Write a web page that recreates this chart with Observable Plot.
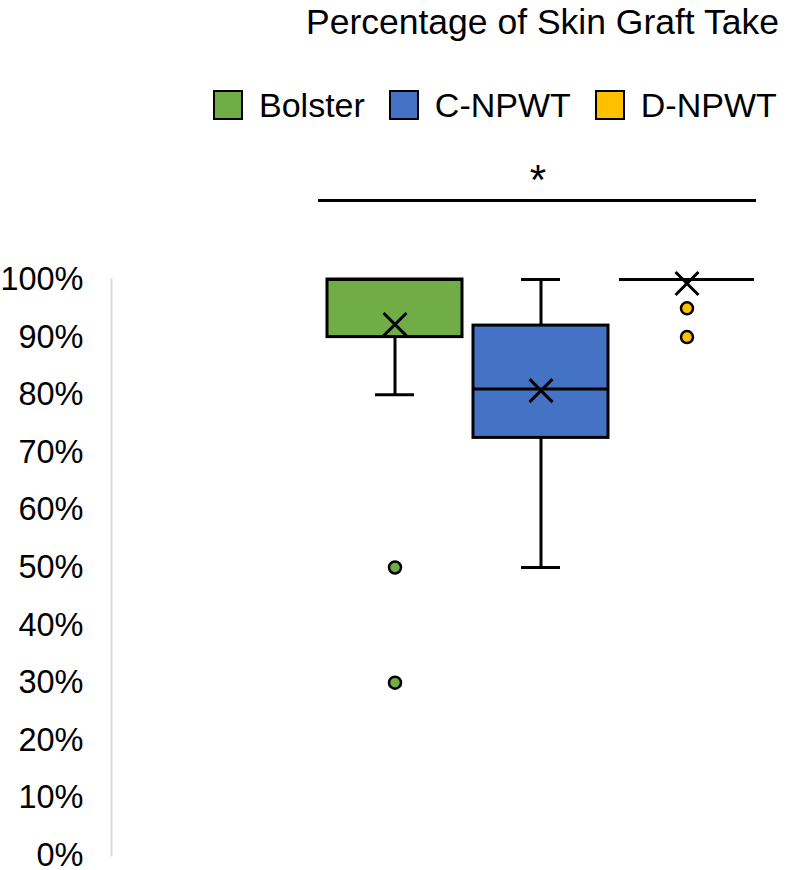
<!DOCTYPE html>
<html>
<head>
<meta charset="utf-8">
<script src="https://cdn.jsdelivr.net/npm/d3@7"></script>
<script src="https://cdn.jsdelivr.net/npm/@observablehq/plot@0.6"></script>
<style>
  html, body { margin: 0; padding: 0; background: #fff; }
  #wrap { position: relative; width: 800px; height: 870px; font-family: "Liberation Sans", Arial, sans-serif; color: #000; }
  #title { position: absolute; left: 306px; top: 2px; font-size: 35.5px; line-height: 40px; white-space: nowrap; }
  #legend { position: absolute; left: 213px; top: 90px; height: 30px; display: flex; align-items: center; font-size: 34px; line-height: 30px; white-space: nowrap; }
  .sw { width: 26px; height: 26px; border: 2px solid #000; margin-right: 16px; }
  .item { display: flex; align-items: center; margin-right: 24px; }
  #chart { position: absolute; left: 0; top: 140px; }
</style>
</head>
<body>
<div id="wrap">
  <div id="title"></div>
  <div id="legend"></div>
  <div id="chart"></div>
</div>
<script>
const titleText = "Percentage of Skin Graft Take";
const series = ["Bolster", "C-NPWT", "D-NPWT"];
const colors = ["#70ad47", "#4472c4", "#ffc000"];
const q1 = [0.90, 0.725, 1.00];
const median = [1.00, 0.81, 1.00];
const q3 = [1.00, 0.92, 1.00];
const whiskerLow = [0.80, 0.50, 1.00];
const whiskerHigh = [1.00, 1.00, 1.00];
const mean = [0.922, 0.807, 0.993];
const outlierSeries = ["Bolster", "Bolster", "D-NPWT", "D-NPWT"];
const outlierValues = [0.50, 0.30, 0.95, 0.90];
const yTicks = [0, 0.1, 0.2, 0.3, 0.4, 0.5, 0.6, 0.7, 0.8, 0.9, 1.0];
const sigFrom = "Bolster", sigTo = "D-NPWT", sigLevel = 1.137, sigLabel = "*";

document.getElementById("title").textContent = titleText;
const leg = document.getElementById("legend");
series.forEach((s, i) => {
  const it = document.createElement("div"); it.className = "item";
  const sw = document.createElement("div"); sw.className = "sw"; sw.style.background = colors[i];
  const tx = document.createElement("span"); tx.textContent = s;
  it.appendChild(sw); it.appendChild(tx); leg.appendChild(it);
});

const boxes = series.map((s, i) => ({
  series: s, color: colors[i], q1: q1[i], median: median[i], q3: q3[i],
  lo: whiskerLow[i], hi: whiskerHigh[i], mean: mean[i]
}));
const outliers = outlierSeries.map((s, i) => ({series: s, value: outlierValues[i], color: colors[series.indexOf(s)]}));
const sig = [{from: sigFrom, to: sigTo, level: sigLevel, label: sigLabel, mid: series[1]}];

const chart = Plot.plot({
  width: 800,
  height: 730,
  marginLeft: 111,
  marginRight: 45,
  marginTop: 139,
  marginBottom: 15,
  style: {fontFamily: "'Liberation Sans', Arial, sans-serif", fontSize: "33px", color: "#000", background: "#fff", overflow: "visible"},
  x: {domain: series, range: [326, 755], paddingInner: 0.075, paddingOuter: 0, axis: null},
  y: {domain: [0, 1], axis: null},
  marks: [
    Plot.frame({anchor: "left", stroke: "#d9d9d9", strokeWidth: 2, strokeOpacity: 1}),
    Plot.axisY({ticks: yTicks, tickFormat: d3.format(".0%"), tickSize: 0, tickPadding: 28, fontSize: 32.5, fill: "#000"}),
    Plot.ruleX(boxes, {x: "series", y1: "lo", y2: "q1", stroke: "#000", strokeWidth: 3}),
    Plot.ruleX(boxes, {x: "series", y1: "q3", y2: "hi", stroke: "#000", strokeWidth: 3}),
    Plot.tickY(boxes, {x: "series", y: "lo", stroke: "#000", strokeWidth: 3, insetLeft: 48, insetRight: 48}),
    Plot.tickY(boxes, {x: "series", y: "hi", stroke: "#000", strokeWidth: 3, insetLeft: 48, insetRight: 48}),
    Plot.barY(boxes, {x: "series", y1: "q1", y2: "q3", fill: "color", stroke: "#000", strokeWidth: 3}),
    Plot.tickY(boxes, {x: "series", y: "median", stroke: "#000", strokeWidth: 3}),
    Plot.dot(boxes, {x: "series", y: "mean", symbol: "times", r: 10.5, stroke: "#000", strokeWidth: 3}),
    Plot.dot(outliers, {x: "series", y: "value", r: 6, fill: "color", stroke: "#000", strokeWidth: 2.5}),
    Plot.ruleY(sig, {x1: "from", x2: "to", y: "level", stroke: "#000", strokeWidth: 3, insetLeft: -9, insetRight: -2}),
    Plot.text(sig, {x: "mid", y: "level", text: "label", fontSize: 42, dy: -20, dx: -3, fill: "#000"})
  ]
});
document.getElementById("chart").appendChild(chart);
</script>
</body>
</html>
